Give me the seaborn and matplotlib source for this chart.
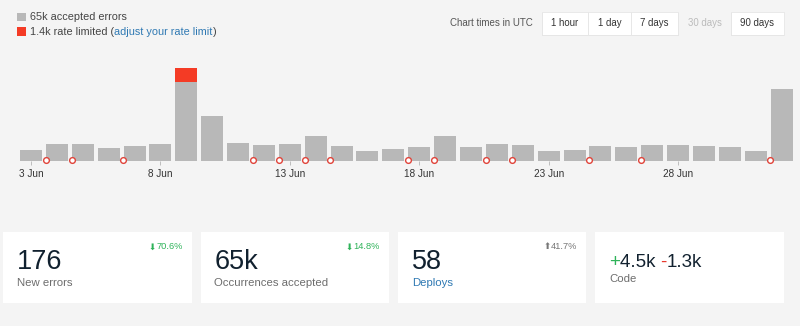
import matplotlib
matplotlib.use('Agg')
import matplotlib.pyplot as plt
from matplotlib.patches import Rectangle
import numpy as np
import pandas as pd
import seaborn as sns

# ---------------- data ----------------
days = ['3 Jun', '4 Jun', '5 Jun', '6 Jun', '7 Jun', '8 Jun', '9 Jun', '10 Jun', '11 Jun',
        '12 Jun', '13 Jun', '14 Jun', '15 Jun', '16 Jun', '17 Jun', '18 Jun', '19 Jun',
        '20 Jun', '21 Jun', '22 Jun', '23 Jun', '24 Jun', '25 Jun', '26 Jun', '27 Jun',
        '28 Jun', '29 Jun', '30 Jun', '1 Jul', '2 Jul']
accepted = [1200, 1850, 1790, 1350, 1600, 1790, 8580, 4900, 1900, 1680, 1790, 2660, 1600,
            1060, 1280, 1530, 2720, 1530, 1820, 1710, 1060, 1170, 1600, 1530, 1680, 1710,
            1600, 1490, 1090, 7850]
rate_limited = [0, 0, 0, 0, 0, 0, 1490, 0, 0, 0, 0, 0, 0, 0, 0, 0, 0, 0, 0, 0, 0, 0, 0, 0,
                0, 0, 0, 0, 0, 0]
deploy_days = ['3 Jun', '4 Jun', '6 Jun', '11 Jun', '12 Jun', '13 Jun', '14 Jun', '17 Jun',
               '18 Jun', '20 Jun', '21 Jun', '24 Jun', '26 Jun', '1 Jul']
tick_days = ['3 Jun', '8 Jun', '13 Jun', '18 Jun', '23 Jun', '28 Jun']

legend_accepted = '65k accepted errors'
legend_limited = '1.4k rate limited ('
legend_link = 'adjust your rate limit'
range_buttons = ['1 hour', '1 day', '7 days', '30 days', '90 days']
range_active = '30 days'
utc_note = 'Chart times in UTC'

card_values = ['176', '65k', '58']
card_labels = ['New errors', 'Occurrences accepted', 'Deploys']
card_changes = ['70.6%', '14.8%', '41.7%']
card_dirs = ['down', 'down', 'up']
code_added = '4.5k'
code_removed = '1.3k'
code_label = 'Code'

# ---------------- style ----------------
BG = '#f4f4f4'
GREY = '#b8b8b8'
RED = '#f43b25'
DEPLOY_RED = '#e0443a'
NAVY = '#11212f'
TEXT = '#444444'
LABEL = '#6d6d6d'
BLUE = '#2f79b3'
GREEN = '#2fb35a'

sns.set_theme(style='white')
plt.rcParams['font.family'] = ['Liberation Sans', 'DejaVu Sans']

W, H = 800, 326
fig = plt.figure(figsize=(W / 100, H / 100), dpi=100, facecolor=BG)

# overlay in pixel coordinates (y downwards)
ov = fig.add_axes([0, 0, 1, 1])
ov.set_xlim(0, W)
ov.set_ylim(H, 0)
ov.axis('off')

# ---------------- bar chart ----------------
per_px = 108.8
base_y = 160.7
ymax = 11000
ax = fig.add_axes([18.06 / W, 1 - base_y / H, (794.5 - 18.06) / W, (ymax / per_px) / H])
ax.set_facecolor('none')
df = pd.DataFrame({'day': days, 'accepted': accepted, 'limited': rate_limited})
df['total'] = df['accepted'] + df['limited']
sns.barplot(data=df, x='day', y='total', order=days, color=RED, saturation=1,
            width=0.85, linewidth=0, ax=ax)
sns.barplot(data=df, x='day', y='accepted', order=days, color=GREY, saturation=1,
            width=0.85, linewidth=0, ax=ax)
pos = {d: i for i, d in enumerate(days)}
dx = [pos[d] + 0.57 for d in deploy_days]
ax.scatter(dx, [120] * len(dx), s=17, facecolor='white', edgecolor=DEPLOY_RED,
           linewidth=1.0, zorder=5, clip_on=False)
ax.set_xlim(-0.5, len(days) - 0.5)
ax.set_ylim(0, ymax)
ax.set_xticks([pos[d] for d in tick_days])
ax.set_xticklabels(tick_days)
ax.set_yticks([])
ax.set_xlabel('')
ax.set_ylabel('')
ax.grid(False)
for s in ax.spines.values():
    s.set_visible(False)
ax.tick_params(axis='x', bottom=True, length=3, width=0.7, color='#bdbdbd', pad=3,
               labelsize=7.2, labelcolor='#333333')

# ---------------- legend ----------------
ov.add_patch(Rectangle((17, 12.6), 8.8, 8.8, color=GREY, lw=0))
ov.add_patch(Rectangle((17, 27.3), 8.8, 8.8, color=RED, lw=0))
ov.text(30, 17, legend_accepted, va='center', ha='left', size=7.8, color=TEXT)
t1 = ov.text(30, 32, legend_limited, va='center', ha='left', size=7.8, color=TEXT)
t2 = ov.annotate(legend_link, xy=(1, 0), xycoords=t1, va='bottom', ha='left', size=7.8,
                 color=BLUE)
ov.annotate(')', xy=(1, 0), xycoords=t2, va='bottom', ha='left', size=7.8, color=TEXT)

# ---------------- range buttons ----------------
renderer = fig.canvas.get_renderer()
widths = []
for lab in range_buttons:
    t = ov.text(0, 0, lab, size=6.9)
    widths.append(t.get_window_extent(renderer).width + 19)
    t.remove()
x = 784 - sum(widths)
bx0 = x
for lab, w in zip(range_buttons, widths):
    if lab != range_active:
        ov.add_patch(Rectangle((x + 0.4, 12.8), w, 23, color='#dadada', lw=0, zorder=1))
        ov.add_patch(Rectangle((x, 12), w, 23, facecolor='white', edgecolor='#e6e6e6',
                               lw=0.6, zorder=2))
        col = '#333333'
    else:
        col = '#bbbbbb'
    ov.text(x + w / 2, 23.5, lab, ha='center', va='center', size=6.9, color=col, zorder=3)
    x += w
ov.text(bx0 - 9.5, 23.5, utc_note, ha='right', va='center', size=7.0, color='#555555')

# ---------------- cards ----------------
card_w, card_step = 188.7, 197.2
top, ch = 232, 71.3
for i, (val, lab, chg, d) in enumerate(zip(card_values, card_labels, card_changes, card_dirs)):
    left = 3.3 + i * card_step
    right = left + card_w
    ov.add_patch(Rectangle((left, top), card_w, ch, facecolor='white', lw=0))
    ov.text(left + 14, 269, val, ha='left', va='baseline', size=19.5, color=NAVY)
    ov.text(left + 14, 286.5, lab, ha='left', va='baseline', size=8.2,
            color=BLUE if lab == 'Deploys' else LABEL)
    col = GREEN if d == 'down' else '#777777'
    tp = ov.text(right - 9.5, 249.3, chg, ha='right', va='baseline', size=6.7, color=col)
    ov.annotate('⬇' if d == 'down' else '⬆', xy=(0, 0), xycoords=tp, ha='right',
                va='bottom', size=6.3, color=col, family=['DejaVu Sans'])

left = 3.3 + 3 * card_step
ov.add_patch(Rectangle((left, top), card_w, ch, facecolor='white', lw=0))
s1 = ov.text(left + 14, 267.3, '+', ha='left', va='baseline', size=13.5, color=GREEN)
s2 = ov.annotate(code_added + ' ', xy=(1, 0), xycoords=s1, ha='left', va='bottom',
                 size=13.5, color=NAVY)
s3 = ov.annotate('-', xy=(1, 0), xycoords=s2, ha='left', va='bottom', size=13.5,
                 color='#e8392e')
ov.annotate(code_removed, xy=(1, 0), xycoords=s3, ha='left', va='bottom', size=13.5,
            color=NAVY)
ov.text(left + 14, 282, code_label, ha='left', va='baseline', size=8.2, color=LABEL)

fig.savefig('out.png', dpi=100, facecolor=BG)
